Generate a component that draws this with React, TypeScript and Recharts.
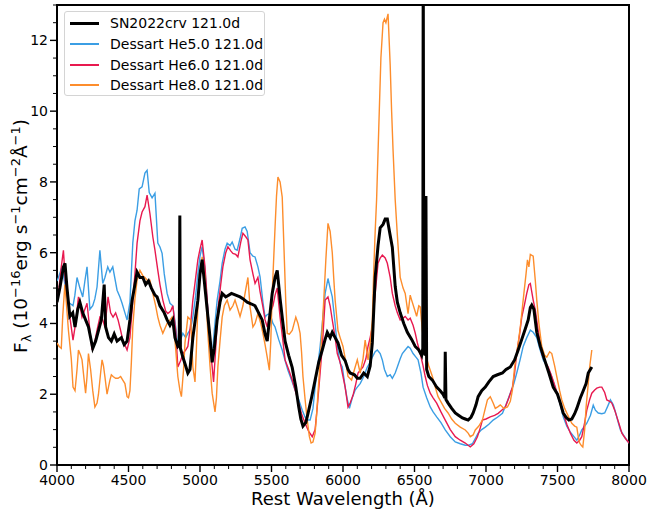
import React from "react";
import { LineChart, Line, XAxis, YAxis, ReferenceArea } from "recharts";

// [rest wavelength (Å), flux (1e-16 erg/s/cm2/Å)]
const SN2022CRV: [number, number][] = [
  [4000, 4.6], [4020, 5.0], [4045, 5.6], [4056, 5.7], [4070, 5.0], [4090, 4.2], [4110, 4.3], [4126, 3.9],
  [4145, 4.4], [4160, 4.6], [4180, 4.3], [4200, 4.1], [4220, 3.9], [4250, 3.3], [4270, 3.5], [4290, 3.8],
  [4310, 4.1], [4330, 5.1], [4340, 3.9], [4360, 3.6], [4380, 3.5], [4400, 3.7], [4420, 3.5], [4450, 3.6],
  [4470, 3.4], [4490, 3.5], [4510, 4.1], [4525, 4.65], [4545, 5.1], [4560, 5.45], [4580, 5.3], [4600, 5.3],
  [4620, 5.1], [4640, 5.2], [4660, 5.0], [4685, 4.8], [4700, 4.75], [4720, 4.5], [4750, 4.3], [4770, 4.1],
  [4790, 3.95], [4810, 4.1], [4825, 3.6], [4845, 3.35], [4855, 3.4], [4859, 7.05], [4863, 3.3], [4880, 3.05],
  [4900, 2.8], [4915, 2.6], [4930, 2.7], [4950, 3.6], [4970, 4.2], [4985, 4.65], [5000, 5.4], [5015, 5.8],
  [5035, 5.0], [5055, 4.2], [5070, 3.6], [5085, 2.9], [5100, 3.3], [5120, 4.1], [5140, 4.6], [5155, 4.85],
  [5180, 4.75], [5200, 4.8], [5220, 4.85], [5250, 4.8], [5280, 4.75], [5300, 4.7], [5330, 4.6], [5360, 4.55],
  [5385, 4.5], [5410, 4.3], [5435, 4.1], [5455, 3.7], [5470, 3.5], [5490, 4.3], [5505, 4.85], [5525, 5.3],
  [5540, 5.5], [5560, 4.7], [5580, 4.0], [5595, 3.5], [5620, 3.1], [5645, 2.75], [5670, 2.2], [5690, 1.65],
  [5705, 1.3], [5720, 1.1], [5740, 1.2], [5755, 1.45], [5780, 1.9], [5805, 2.4], [5830, 2.9], [5855, 3.25],
  [5875, 3.55], [5890, 3.75], [5910, 3.6], [5925, 3.75], [5945, 3.6], [5965, 3.45], [5990, 3.1], [6015, 2.95],
  [6035, 2.7], [6050, 2.6], [6080, 2.55], [6100, 2.45], [6120, 2.45], [6145, 2.6], [6170, 2.5], [6190, 2.8],
  [6205, 3.45], [6225, 5.3], [6245, 6.2], [6260, 6.7], [6280, 6.8], [6295, 6.95], [6310, 6.95], [6325, 6.6],
  [6345, 6.15], [6365, 5.05], [6380, 4.6], [6400, 4.3], [6425, 4.0], [6450, 3.75], [6480, 3.55], [6505, 3.35],
  [6530, 3.25], [6550, 3.1], [6558, 3.3], [6561, 15], [6565, 3.2], [6575, 3.1], [6580, 7.6], [6585, 2.7],
  [6600, 2.5], [6625, 2.4], [6655, 2.2], [6680, 2.1], [6700, 2.0], [6712, 1.9], [6715, 3.2], [6720, 1.85],
  [6735, 1.75], [6760, 1.6], [6785, 1.47], [6810, 1.4], [6835, 1.33], [6855, 1.3], [6875, 1.27], [6895, 1.35],
  [6910, 1.47], [6930, 1.7], [6945, 1.93], [6970, 2.1], [6995, 2.2], [7020, 2.35], [7050, 2.5], [7080, 2.55],
  [7115, 2.6], [7140, 2.7], [7170, 2.77], [7200, 2.97], [7225, 3.25], [7250, 3.55], [7275, 3.85], [7295, 4.1],
  [7310, 4.45], [7320, 4.52], [7335, 4.4], [7355, 3.75], [7380, 3.35], [7410, 2.97], [7440, 2.6], [7470, 2.2],
  [7500, 2.0], [7520, 1.75], [7540, 1.47], [7560, 1.35], [7580, 1.27], [7600, 1.3], [7620, 1.45], [7635, 1.6],
  [7660, 1.9], [7680, 2.1], [7700, 2.3], [7715, 2.6], [7740, 2.77],
];

const HE50: [number, number][] = [
  [4000, 5.2], [4010, 5.3], [4035, 5.6], [4056, 5.1], [4075, 4.6], [4090, 4.57], [4112, 4.5], [4125, 4.8],
  [4140, 5.3], [4160, 5.0], [4180, 4.75], [4195, 5.2], [4210, 5.6], [4230, 4.4], [4250, 4.5], [4265, 4.7],
  [4280, 5.03], [4300, 6.07], [4320, 5.13], [4335, 5.3], [4355, 5.6], [4370, 5.45], [4390, 5.6], [4420, 4.94],
  [4440, 4.75], [4455, 4.57], [4475, 4.3], [4490, 4.1], [4510, 4.6], [4530, 6.27], [4545, 6.9], [4560, 7.2],
  [4575, 7.8], [4595, 7.86], [4615, 8.25], [4630, 8.33], [4645, 7.7], [4665, 7.55], [4685, 7.68], [4705, 6.27],
  [4720, 6.16], [4735, 5.98], [4750, 5.4], [4770, 4.85], [4790, 4.57], [4810, 4.5], [4830, 3.9], [4845, 3.35],
  [4860, 3.5], [4880, 3.72], [4900, 3.6], [4915, 3.72], [4935, 3.85], [4950, 4.18], [4970, 4.8], [4985, 5.4],
  [5000, 5.9], [5015, 6.17], [5035, 5.5], [5055, 4.38], [5070, 3.6], [5085, 3.05], [5100, 3.8], [5120, 4.66],
  [5140, 5.2], [5155, 5.7], [5175, 6.1], [5190, 6.27], [5210, 6.2], [5225, 6.3], [5245, 6.1], [5260, 6.07],
  [5280, 6.4], [5295, 6.69], [5315, 6.73], [5330, 6.6], [5350, 6.0], [5370, 5.9], [5385, 5.88], [5405, 5.6],
  [5420, 5.32], [5440, 4.6], [5455, 4.18], [5470, 4.25], [5490, 4.28], [5510, 4.0], [5525, 3.9], [5550, 3.55],
  [5575, 3.25], [5595, 2.95], [5615, 2.68], [5640, 2.4], [5665, 2.12], [5690, 1.85], [5715, 1.55], [5735, 1.35],
  [5750, 1.27], [5770, 1.27], [5790, 1.6], [5805, 2.2], [5820, 2.7], [5840, 3.35], [5860, 4.2], [5875, 4.85],
  [5895, 5.27], [5910, 5.0], [5925, 4.75], [5945, 4.0], [5960, 3.35], [5980, 2.88], [5995, 2.77], [6015, 2.2],
  [6030, 1.85], [6045, 1.6], [6065, 1.9], [6085, 2.12], [6100, 2.2], [6120, 2.3], [6145, 2.5], [6170, 2.77],
  [6190, 2.9], [6205, 3.05], [6225, 3.2], [6240, 3.25], [6260, 3.15], [6275, 2.97], [6290, 2.7], [6310, 2.5],
  [6330, 2.55], [6345, 2.45], [6365, 2.6], [6380, 2.77], [6400, 3.0], [6415, 3.15], [6435, 3.25], [6455, 3.35],
  [6470, 3.3], [6490, 3.15], [6510, 3.05], [6525, 2.97], [6545, 2.6], [6560, 2.2], [6585, 1.9], [6610, 1.64],
  [6630, 1.5], [6655, 1.36], [6685, 1.2], [6715, 0.99], [6750, 0.8], [6785, 0.65], [6820, 0.6], [6855, 0.56],
  [6880, 0.56], [6905, 0.6], [6925, 0.75], [6945, 0.9], [6970, 1.0], [6995, 1.07], [7020, 1.15], [7050, 1.27],
  [7080, 1.35], [7115, 1.46], [7140, 1.7], [7170, 2.03], [7195, 2.3], [7215, 2.6], [7240, 3.0], [7260, 3.35],
  [7285, 3.6], [7310, 3.81], [7330, 3.75], [7355, 3.6], [7375, 3.3], [7400, 2.97], [7425, 2.8], [7450, 2.6],
  [7475, 2.3], [7495, 2.03], [7520, 1.7], [7540, 1.36], [7565, 1.1], [7590, 0.93], [7615, 0.8], [7635, 0.7],
  [7655, 0.85], [7670, 0.99], [7690, 1.1], [7705, 1.18], [7730, 1.4], [7750, 1.69], [7765, 1.55], [7785, 1.47],
  [7810, 1.45], [7830, 1.47], [7850, 1.65], [7870, 1.84], [7890, 1.7], [7905, 1.5], [7925, 1.2], [7940, 0.99],
  [7960, 0.85], [7985, 0.7], [8000, 0.62],
];

const HE60: [number, number][] = [
  [4000, 4.6], [4010, 4.85], [4030, 5.6], [4045, 6.07], [4058, 5.2], [4070, 4.85], [4090, 4.18], [4112, 3.53],
  [4130, 4.0], [4150, 4.75], [4175, 4.18], [4195, 4.4], [4210, 4.57], [4230, 3.8], [4245, 3.25], [4265, 3.5],
  [4280, 3.81], [4300, 4.18], [4320, 4.1], [4335, 3.9], [4357, 4.75], [4375, 4.3], [4392, 4.18], [4410, 4.3],
  [4427, 4.1], [4445, 3.8], [4460, 3.53], [4490, 3.25], [4510, 3.6], [4525, 4.38], [4545, 5.4], [4560, 6.27],
  [4580, 6.9], [4595, 7.15], [4615, 7.3], [4630, 7.63], [4650, 7.1], [4670, 6.45], [4685, 6.07], [4705, 5.5],
  [4720, 5.1], [4740, 4.66], [4760, 4.35], [4775, 4.28], [4795, 4.35], [4810, 4.5], [4830, 3.8], [4845, 2.77],
  [4865, 2.95], [4880, 3.15], [4900, 3.25], [4915, 3.35], [4935, 4.0], [4950, 4.66], [4970, 5.3], [4985, 5.8],
  [5000, 6.1], [5015, 6.36], [5035, 5.6], [5055, 4.38], [5075, 3.2], [5095, 2.35], [5110, 3.3], [5125, 4.38],
  [5145, 5.1], [5160, 5.6], [5180, 6.0], [5195, 6.17], [5215, 6.05], [5230, 5.98], [5250, 5.95], [5265, 5.88],
  [5285, 6.3], [5300, 6.55], [5320, 6.45], [5335, 6.36], [5350, 5.8], [5370, 5.4], [5385, 5.13], [5405, 5.3],
  [5420, 4.9], [5440, 4.47], [5455, 4.1], [5470, 3.9], [5490, 4.28], [5510, 4.5], [5525, 4.8], [5540, 5.0],
  [5560, 4.18], [5580, 3.5], [5595, 2.97], [5620, 2.7], [5645, 2.4], [5670, 2.05], [5690, 1.75], [5710, 1.45],
  [5735, 1.18], [5760, 0.95], [5785, 0.8], [5805, 1.0], [5820, 1.64], [5840, 2.6], [5855, 3.35], [5875, 4.66],
  [5895, 4.75], [5910, 4.5], [5925, 4.1], [5945, 3.6], [5960, 3.15], [5980, 2.9], [5995, 2.6], [6015, 2.2],
  [6035, 1.64], [6050, 1.75], [6070, 1.97], [6090, 2.3], [6105, 2.6], [6125, 2.7], [6140, 2.77], [6160, 3.0],
  [6175, 3.35], [6190, 3.6], [6205, 3.9], [6225, 4.85], [6245, 5.7], [6260, 5.85], [6275, 5.93], [6295, 5.85],
  [6310, 5.7], [6330, 5.3], [6345, 4.85], [6365, 4.5], [6380, 4.3], [6400, 4.1], [6420, 4.15], [6435, 4.2],
  [6455, 4.1], [6470, 4.15], [6490, 3.95], [6505, 3.73], [6520, 3.45], [6540, 3.15], [6560, 2.8], [6575, 2.5],
  [6590, 2.25], [6610, 2.03], [6630, 1.9], [6655, 1.75], [6685, 1.5], [6715, 1.27], [6750, 1.0], [6785, 0.8],
  [6820, 0.7], [6855, 0.62], [6890, 0.51], [6915, 0.6], [6940, 0.8], [6960, 1.05], [6975, 1.27], [7000, 1.3],
  [7030, 1.36], [7060, 1.4], [7085, 1.46], [7110, 1.55], [7135, 1.64], [7160, 1.9], [7185, 2.2], [7200, 2.6],
  [7215, 3.15], [7235, 3.7], [7250, 4.18], [7270, 4.55], [7285, 4.85], [7300, 5.1], [7310, 5.13], [7330, 4.66],
  [7345, 4.38], [7365, 3.8], [7390, 3.15], [7410, 2.95], [7435, 2.77], [7460, 2.5], [7485, 2.2], [7510, 1.85],
  [7540, 1.47], [7565, 1.15], [7590, 0.9], [7615, 0.7], [7635, 0.62], [7655, 0.7], [7670, 0.8], [7690, 1.2],
  [7705, 1.55], [7725, 1.85], [7740, 2.03], [7760, 2.12], [7775, 2.17], [7795, 2.2], [7810, 2.2], [7830, 2.05],
  [7845, 1.84], [7865, 1.8], [7880, 1.75], [7900, 1.55], [7915, 1.36], [7935, 1.1], [7950, 0.9], [7975, 0.75],
  [7995, 0.65], [8000, 0.62],
];

const HE80: [number, number][] = [
  [4000, 3.45], [4015, 3.35], [4030, 3.3], [4040, 4.2], [4055, 5.1], [4065, 4.6], [4080, 3.8], [4100, 3.0],
  [4112, 2.2], [4126, 2.1], [4140, 2.7], [4150, 3.25], [4165, 3.1], [4175, 2.97], [4190, 2.4], [4200, 2.03],
  [4210, 2.5], [4220, 3.15], [4235, 2.7], [4250, 2.1], [4265, 1.64], [4280, 1.75], [4290, 2.0], [4305, 2.6],
  [4315, 2.97], [4325, 2.8], [4335, 2.5], [4350, 2.0], [4360, 2.2], [4370, 2.4], [4380, 2.55], [4392, 2.5],
  [4410, 2.45], [4427, 2.45], [4445, 2.5], [4460, 2.4], [4475, 2.3], [4490, 1.93], [4500, 1.9], [4510, 2.1],
  [4520, 2.9], [4530, 3.9], [4545, 4.7], [4560, 5.22], [4580, 5.5], [4600, 5.35], [4615, 5.3], [4635, 5.2],
  [4650, 5.22], [4670, 4.85], [4690, 4.5], [4705, 4.18], [4720, 3.95], [4740, 3.72], [4770, 4.0], [4790, 4.1],
  [4805, 4.18], [4825, 3.53], [4845, 2.5], [4860, 2.1], [4870, 1.93], [4885, 2.7], [4895, 3.45], [4915, 4.18],
  [4935, 4.1], [4950, 2.77], [4965, 2.35], [4975, 3.3], [4985, 4.47], [5000, 5.3], [5015, 5.88], [5035, 5.3],
  [5055, 3.72], [5070, 2.8], [5085, 2.03], [5105, 1.5], [5115, 1.9], [5125, 2.77], [5140, 3.5], [5155, 4.18],
  [5170, 4.5], [5190, 4.66], [5210, 4.38], [5230, 4.5], [5245, 4.66], [5265, 4.4], [5280, 4.2], [5300, 4.5],
  [5315, 4.85], [5335, 5.3], [5350, 4.47], [5370, 3.9], [5385, 4.0], [5405, 4.28], [5425, 4.0], [5440, 3.72],
  [5455, 3.4], [5470, 3.05], [5485, 2.68], [5495, 3.5], [5505, 4.85], [5515, 5.8], [5525, 6.73], [5535, 7.6],
  [5545, 8.14], [5560, 8.0], [5575, 7.57], [5590, 5.8], [5600, 4.6], [5610, 3.72], [5625, 3.7], [5645, 3.8],
  [5670, 4.18], [5685, 4.0], [5700, 3.72], [5710, 3.2], [5720, 2.5], [5735, 1.85], [5750, 1.27], [5765, 0.8],
  [5777, 0.62], [5790, 0.65], [5805, 0.9], [5815, 1.4], [5825, 2.03], [5840, 2.9], [5855, 3.9], [5870, 5.0],
  [5880, 5.8], [5895, 6.83], [5910, 6.6], [5925, 6.0], [5935, 5.3], [5945, 4.66], [5965, 3.8], [5980, 3.6],
  [6000, 3.35], [6020, 2.9], [6035, 2.5], [6060, 2.4], [6080, 2.7], [6100, 2.97], [6120, 2.6], [6140, 3.0],
  [6155, 3.53], [6175, 2.97], [6190, 3.4], [6205, 4.1], [6215, 5.5], [6225, 6.6], [6235, 7.5], [6250, 9.5],
  [6265, 11.5], [6280, 12.5], [6290, 12.6], [6300, 12.5], [6315, 12.75], [6330, 11.3], [6340, 10.0], [6350, 8.9],
  [6365, 7.5], [6380, 6.5], [6400, 5.3], [6420, 5.0], [6435, 4.85], [6455, 4.28], [6470, 4.8], [6480, 4.66],
  [6500, 4.4], [6515, 4.2], [6530, 4.5], [6540, 4.47], [6560, 3.6], [6575, 3.15], [6600, 2.8], [6625, 2.5],
  [6645, 2.2], [6665, 1.93], [6690, 1.75], [6710, 1.6], [6735, 1.47], [6760, 1.3], [6785, 1.18], [6820, 1.07],
  [6855, 0.99], [6875, 0.9], [6890, 0.8], [6910, 0.85], [6925, 0.99], [6950, 1.1], [6975, 1.27], [6995, 1.6],
  [7010, 1.84], [7030, 1.93], [7050, 1.75], [7065, 1.6], [7085, 1.65], [7100, 1.7], [7125, 1.6], [7150, 1.64],
  [7170, 1.8], [7185, 2.12], [7200, 2.77], [7220, 3.3], [7240, 3.9], [7265, 4.85], [7280, 5.4], [7290, 5.8],
  [7300, 5.6], [7310, 5.95], [7330, 5.9], [7345, 5.2], [7355, 4.66], [7370, 4.0], [7390, 3.35], [7410, 3.1],
  [7425, 3.05], [7445, 3.2], [7460, 3.15], [7480, 2.8], [7495, 2.5], [7515, 2.1], [7530, 1.84], [7550, 1.6],
  [7565, 1.47], [7585, 1.3], [7600, 1.18], [7620, 1.1], [7635, 1.07], [7645, 0.8], [7655, 0.62], [7667, 0.55],
  [7677, 0.51], [7690, 1.0], [7700, 1.64], [7715, 2.3], [7725, 2.77], [7740, 3.25],
];

const SERIES = [
  { name: "SN2022crv 121.0d", points: SN2022CRV, color: "#000000", width: 3 },
  { name: "Dessart He5.0 121.0d", points: HE50, color: "#3b9ee4", width: 1.4 },
  { name: "Dessart He6.0 121.0d", points: HE60, color: "#e8194f", width: 1.4 },
  { name: "Dessart He8.0 121.0d", points: HE80, color: "#fd8d2c", width: 1.4 },
];

const X_MAJOR = [4000, 4500, 5000, 5500, 6000, 6500, 7000, 7500, 8000];
const Y_MAJOR = [0, 2, 4, 6, 8, 10, 12];
const X_TICKS: number[] = [];
for (let v = 4000; v <= 8000; v += 100) X_TICKS.push(v);
const Y_TICKS: number[] = [];
for (let v = 0; v <= 13; v += 0.5) Y_TICKS.push(v);

const FONT = "DejaVu Sans, sans-serif";

const XTick = (props: any) => {
  const { x, y, payload } = props;
  const major = X_MAJOR.includes(payload.value);
  return (
    <g>
      <line x1={x} x2={x} y1={y} y2={y + (major ? 7 : 4)} stroke="#000" strokeWidth={major ? 1.4 : 1} />
      {major && (
        <text x={x} y={y + 20} textAnchor="middle" fontFamily={FONT} fontSize={14} fill="#000">
          {payload.value}
        </text>
      )}
    </g>
  );
};

const YTick = (props: any) => {
  const { x, y, payload } = props;
  const major = Y_MAJOR.includes(payload.value);
  return (
    <g>
      <line x1={x - (major ? 7 : 4)} x2={x} y1={y} y2={y} stroke="#000" strokeWidth={major ? 1.4 : 1} />
      {major && (
        <text x={x - 9} y={y + 5} textAnchor="end" fontFamily={FONT} fontSize={14} fill="#000">
          {payload.value}
        </text>
      )}
    </g>
  );
};

const YLabel = () => (
  <text
    x={27}
    y={236}
    transform="rotate(-90, 27, 236)"
    textAnchor="middle"
    fontFamily={FONT}
    fontSize={18.5}
    fill="#000"
  >
    <tspan>F</tspan>
    <tspan fontSize={13} dy={4}>λ</tspan>
    <tspan dy={-4}> (10</tspan>
    <tspan fontSize={13} dy={-7}>−16</tspan>
    <tspan dy={7}>erg s</tspan>
    <tspan fontSize={13} dy={-7}>−1</tspan>
    <tspan dy={7}>cm</tspan>
    <tspan fontSize={13} dy={-7}>−2</tspan>
    <tspan dy={7}>Å</tspan>
    <tspan fontSize={13} dy={-7}>−1</tspan>
    <tspan dy={7}>)</tspan>
  </text>
);

const XLabel = () => (
  <text x={343} y={505} textAnchor="middle" fontFamily={FONT} fontSize={18} fill="#000">
    Rest Wavelength (Å)
  </text>
);

const LegendBox = () => (
  <div
    style={{
      position: "absolute",
      left: 64,
      top: 11,
      width: 201,
      height: 85,
      boxSizing: "border-box",
      border: "1px solid #d4d4d4",
      borderRadius: 3,
      background: "rgba(255,255,255,0.85)",
      padding: "1px 0 0 5px",
      fontFamily: FONT,
      fontSize: 14,
      color: "#000",
    }}
  >
    {SERIES.map((s) => (
      <div key={s.name} style={{ display: "flex", alignItems: "center", height: 20.7 }}>
        <div style={{ width: 29, height: s.width > 2 ? 2.5 : 2, background: s.color, marginRight: 11 }} />
        <span style={{ whiteSpace: "nowrap" }}>{s.name}</span>
      </div>
    ))}
  </div>
);

export default function App() {
  return (
    <div style={{ position: "absolute", left: 0, top: 0, width: 649, height: 514, background: "#fff" }}>
      <LineChart width={649} height={514} margin={{ top: 5, right: 20, bottom: 0, left: 0 }}>
        <XAxis
          dataKey="w"
          type="number"
          domain={[4000, 8000]}
          ticks={X_TICKS}
          interval={0}
          tick={<XTick />}
          tickLine={false}
          tickSize={0}
          tickMargin={0}
          axisLine={false}
          height={49}
          allowDataOverflow
          label={<XLabel />}
        />
        <YAxis
          type="number"
          domain={[0, 13]}
          ticks={Y_TICKS}
          interval={0}
          tick={<YTick />}
          tickLine={false}
          tickSize={0}
          tickMargin={0}
          axisLine={false}
          width={57}
          allowDataOverflow
          label={<YLabel />}
        />
        {SERIES.slice(1).map((s) => (
          <Line
            key={s.name}
            data={s.points.map(([w, f]) => ({ w, f }))}
            dataKey="f"
            stroke={s.color}
            strokeWidth={s.width}
            dot={false}
            type="linear"
            isAnimationActive={false}
          />
        ))}
        <Line
          data={SERIES[0].points.map(([w, f]) => ({ w, f }))}
          dataKey="f"
          stroke={SERIES[0].color}
          strokeWidth={SERIES[0].width}
          strokeLinejoin="miter"
          dot={false}
          type="linear"
          isAnimationActive={false}
        />
        <ReferenceArea x1={4000} x2={8000} y1={0} y2={13} fill="none" stroke="#000" strokeWidth={2} ifOverflow="visible" />
      </LineChart>
      <LegendBox />
    </div>
  );
}
